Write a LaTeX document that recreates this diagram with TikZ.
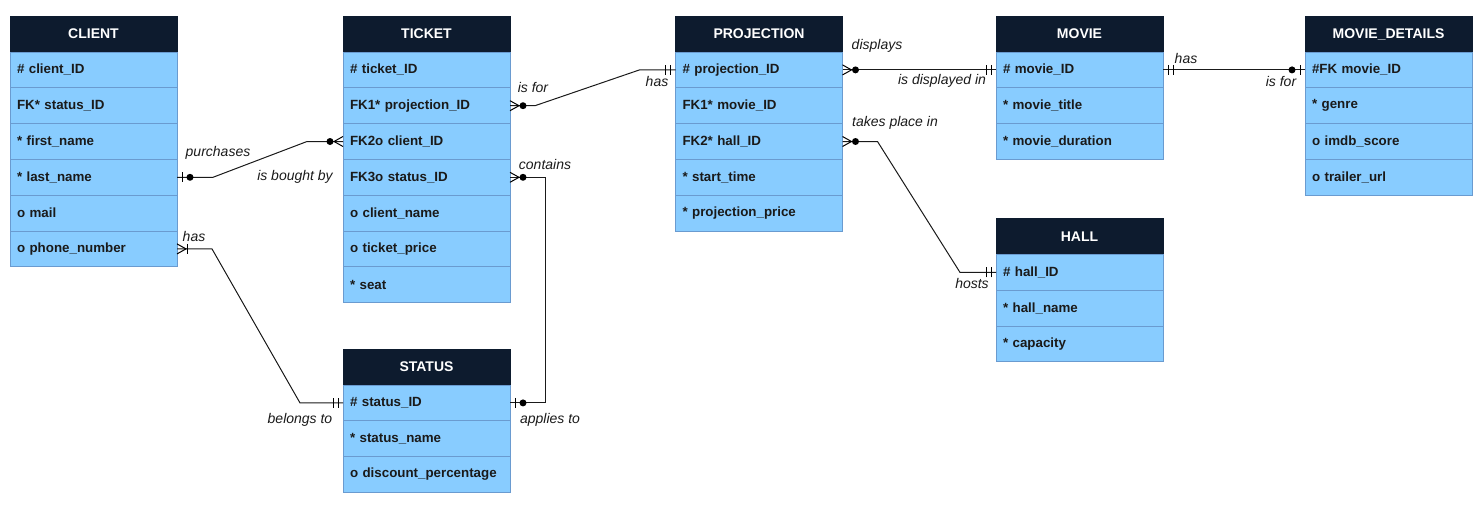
\documentclass[tikz,border=0pt]{standalone}
\usepackage{fontspec}
\setmainfont{Liberation Sans}
\usepackage{tikz}
\usetikzlibrary{positioning,calc}
\definecolor{navy}{HTML}{0D1B2E}
\definecolor{sky}{HTML}{88CCFF}
\definecolor{skyline}{HTML}{6A9BD0}
\definecolor{ink}{HTML}{1A1A1A}

\tikzset{
	zmany/.pic={\draw (0,-5) -- (9,0) -- (0,5); \fill (13,0) circle[radius=3.5];},
	zone/.pic={\draw (5,-5) -- (5,5); \fill (13,0) circle[radius=3.5];},
	onemany/.pic={\draw (0,-5) -- (9,0) -- (0,5); \draw (10,-5) -- (10,5);},
	oneone/.pic={\draw (5,-5) -- (5,5); \draw (10,-5) -- (10,5);},
}

\begin{document}
\begin{tikzpicture}[x=0.75pt,y=-0.75pt,line width=0.75pt,
		head/.style={fill=navy,draw=navy,text=white,font=\fontsize{10.5}{12}\selectfont\bfseries,minimum width=125.25pt,minimum height=27pt,inner sep=0pt,outer sep=0pt},
		row/.style={fill=sky,draw=skyline,text=ink,font=\fontsize{10}{12}\selectfont\bfseries,minimum height=26.85pt,text width=114.75pt,inner xsep=5.25pt,inner ysep=0pt,outer sep=0pt,align=left},
		lbl/.style={font=\fontsize{10.5}{12}\selectfont\itshape,text=ink,inner sep=0pt},
		conn/.style={draw=ink},
		]
		\useasboundingbox (0,0) rectangle (1481,507);

		% tables
		\node[head](client) at (93.5,34) {CLIENT};
		\node[row,below=0pt of client](client-1) {\# client\_ID};
		\node[row,below=0pt of client-1](client-2) {FK* status\_ID};
		\node[row,below=0pt of client-2](client-3) {* first\_name};
		\node[row,below=0pt of client-3](client-4) {* last\_name};
		\node[row,below=0pt of client-4](client-5) {o mail};
		\node[row,below=0pt of client-5](client-6) {o phone\_number};

		\node[head](ticket) at (426.5,34) {TICKET};
		\node[row,below=0pt of ticket](ticket-1) {\# ticket\_ID};
		\node[row,below=0pt of ticket-1](ticket-2) {FK1* projection\_ID};
		\node[row,below=0pt of ticket-2](ticket-3) {FK2o client\_ID};
		\node[row,below=0pt of ticket-3](ticket-4) {FK3o status\_ID};
		\node[row,below=0pt of ticket-4](ticket-5) {o client\_name};
		\node[row,below=0pt of ticket-5](ticket-6) {o ticket\_price};
		\node[row,below=0pt of ticket-6](ticket-7) {* seat};

		\node[head](status) at (426.5,367) {STATUS};
		\node[row,below=0pt of status](status-1) {\# status\_ID};
		\node[row,below=0pt of status-1](status-2) {* status\_name};
		\node[row,below=0pt of status-2](status-3) {o discount\_percentage};

		\node[head](projection) at (759,34) {PROJECTION};
		\node[row,below=0pt of projection](projection-1) {\# projection\_ID};
		\node[row,below=0pt of projection-1](projection-2) {FK1* movie\_ID};
		\node[row,below=0pt of projection-2](projection-3) {FK2* hall\_ID};
		\node[row,below=0pt of projection-3](projection-4) {* start\_time};
		\node[row,below=0pt of projection-4](projection-5) {* projection\_price};

		\node[head](movie) at (1079.5,34) {MOVIE};
		\node[row,below=0pt of movie](movie-1) {\# movie\_ID};
		\node[row,below=0pt of movie-1](movie-2) {* movie\_title};
		\node[row,below=0pt of movie-2](movie-3) {* movie\_duration};

		\node[head](hall) at (1079.5,236.5) {HALL};
		\node[row,below=0pt of hall](hall-1) {\# hall\_ID};
		\node[row,below=0pt of hall-1](hall-2) {* hall\_name};
		\node[row,below=0pt of hall-2](hall-3) {* capacity};

		\node[head](details) at (1388.5,34) {MOVIE\_DETAILS};
		\node[row,below=0pt of details](details-1) {\#FK movie\_ID};
		\node[row,below=0pt of details-1](details-2) {* genre};
		\node[row,below=0pt of details-2](details-3) {o imdb\_score};
		\node[row,below=0pt of details-3](details-4) {o trailer\_url};

		% relations
		\draw[conn] (client-4.east) -- ++(36,0) -- ($(ticket-3.west)+(-36,0)$) -- (ticket-3.west);
		\draw[conn] (client-6.east) -- ++(35,0) -- ($(status-1.west)+(-43,0)$) -- (status-1.west);
		\draw[conn] (ticket-2.east) -- ++(25,0) -- ($(projection-1.west)+(-36,0)$) -- (projection-1.west);
		\draw[conn] (ticket-4.east) -- ++(35,0) |- (status-1.east);
		\draw[conn] (projection-1.east) -- (movie-1.west);
		\draw[conn] (projection-3.east) -- ++(35,0) -- ($(hall-1.west)+(-36,0)$) -- (hall-1.west);
		\draw[conn] (movie-1.east) -- (details-1.west);

		\pic at (client-4.east) {zone};
		\pic[rotate=180] at (ticket-3.west) {zmany};
		\pic at (client-6.east) {onemany};
		\pic[rotate=180] at (status-1.west) {oneone};
		\pic at (ticket-2.east) {zmany};
		\pic[rotate=180] at (projection-1.west) {oneone};
		\pic at (ticket-4.east) {zmany};
		\pic at (status-1.east) {zone};
		\pic at (projection-1.east) {zmany};
		\pic[rotate=180] at (movie-1.west) {oneone};
		\pic at (projection-3.east) {zmany};
		\pic[rotate=180] at (hall-1.west) {oneone};
		\pic at (movie-1.east) {oneone};
		\pic[rotate=180] at (details-1.west) {zone};

		\node[lbl](l-purchases) at (218,153) {purchases};
		\node[lbl](l-boughtby) at (295,177) {is bought by};
		\node[lbl](l-has1) at (194,236) {has};
		\node[lbl](l-belongs) at (300,420) {belongs to};
		\node[lbl](l-isfor1) at (533,87) {is for};
		\node[lbl](l-has2) at (657,81) {has};
		\node[lbl](l-contains) at (545,164) {contains};
		\node[lbl](l-applies) at (550,420) {applies to};
		\node[lbl](l-displays) at (877,46) {displays};
		\node[lbl](l-displayed) at (942,81) {is displayed in};
		\node[lbl](l-takes) at (895,123) {takes place in};
		\node[lbl](l-hosts) at (972,283) {hosts};
		\node[lbl](l-has3) at (1186,58) {has};
		\node[lbl](l-isfor2) at (1281,81) {is for};
	\end{tikzpicture}
\end{document}
